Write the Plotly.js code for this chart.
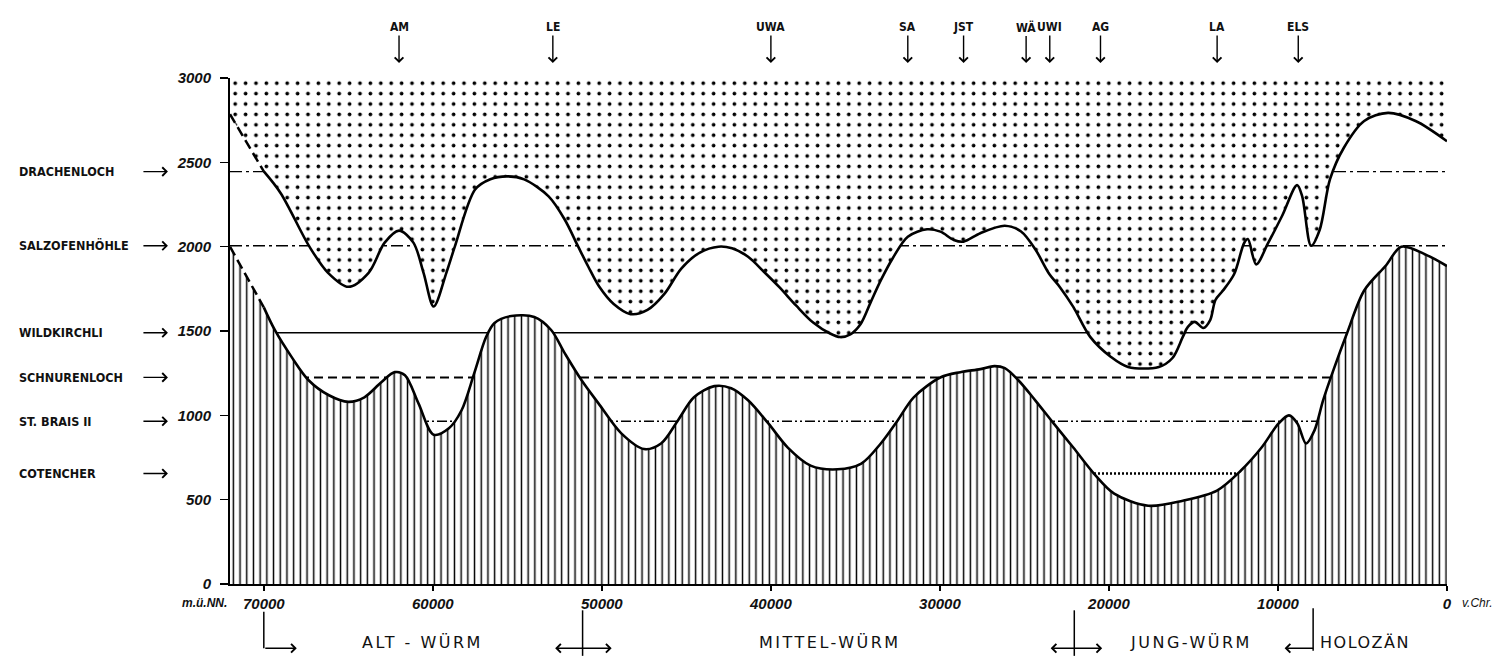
<!DOCTYPE html>
<html>
<head>
<meta charset="utf-8">
<script src="https://cdn.plot.ly/plotly-3.0.1.min.js"></script>
<style>html,body{margin:0;padding:0;background:#fff;}#chart{width:1498px;height:669px;}</style>
</head>
<body>
<div id="chart"></div>
<script>
// ---- data (years before Christ, metres above sea level) ----
const upperYears = [72000, 70000, 69000, 67300, 66200, 65000, 63800, 62850, 62000, 61150, 60550, 59950, 59200, 58700, 57500, 56600, 55600, 54600, 53150, 52200, 51400, 50800, 50150, 49300, 48300, 47300, 46300, 45300, 44200, 43100, 42300, 41350, 40400, 39500, 38500, 37500, 36500, 35900, 35300, 34700, 34100, 33500, 32800, 31900, 30760, 29970, 29180, 28600, 27610, 26160, 25200, 24360, 23530, 22900, 22110, 21110, 19880, 18870, 17050, 16240, 15630, 15330, 14920, 14420, 14010, 13700, 13250, 12590, 12000, 11780, 11290, 10580, 9760, 8870, 8570, 8040, 7530, 6920, 6110, 4900, 3490, 1860, 0];
const upperAlt   = [2785, 2446, 2317, 2000, 1845, 1762, 1845, 2024, 2095, 2024, 1845, 1645, 1845, 2000, 2339, 2400, 2417, 2399, 2298, 2161, 2000, 1881, 1762, 1660, 1600, 1625, 1720, 1870, 1965, 2000, 1990, 1940, 1850, 1760, 1650, 1550, 1485, 1464, 1480, 1540, 1670, 1800, 1930, 2059, 2103, 2089, 2040, 2030, 2080, 2124, 2090, 1985, 1838, 1760, 1643, 1465, 1346, 1287, 1287, 1340, 1465, 1524, 1554, 1518, 1565, 1684, 1740, 1838, 2022, 2045, 1895, 2022, 2182, 2365, 2300, 2005, 2100, 2400, 2585, 2745, 2793, 2745, 2625];
const lowerYears = [72000, 70000, 69350, 68350, 67350, 66150, 65000, 64050, 63050, 62250, 61650, 60850, 59950, 59050, 58300, 57550, 56850, 56350, 55350, 54000, 53000, 52200, 51200, 50200, 48850, 47500, 46500, 45500, 44550, 43350, 42350, 41350, 40150, 39000, 37650, 36050, 34650, 33500, 32500, 31550, 29950, 28790, 27600, 26780, 26160, 25360, 24360, 23320, 22110, 20890, 19690, 17680, 15630, 13610, 12190, 10970, 9960, 9350, 8850, 8340, 7840, 7330, 6720, 5910, 4900, 3600, 2700, 1200, 0];
const lowerAlt   = [2000, 1640, 1506, 1345, 1208, 1119, 1080, 1107, 1196, 1256, 1238, 1071, 885, 923, 1030, 1250, 1464, 1548, 1589, 1583, 1506, 1369, 1208, 1071, 893, 800, 833, 970, 1107, 1173, 1161, 1089, 952, 809, 702, 680, 714, 833, 970, 1107, 1226, 1256, 1274, 1292, 1280, 1208, 1089, 958, 809, 655, 536, 464, 494, 554, 673, 809, 952, 1000, 952, 833, 911, 1089, 1268, 1488, 1740, 1890, 2000, 1950, 1885];
const caveNames = ['DRACHENLOCH', 'SALZOFENHÖHLE', 'WILDKIRCHLI', 'SCHNURENLOCH', 'ST. BRAIS II', 'COTENCHER'];
const caveAlt   = [2445, 2005, 1490, 1225, 965, 655];
const siteLabels = ['AM', 'LE', 'UWA', 'SA', 'JST', 'WÄ', 'UWI', 'AG', 'LA', 'ELS'];
const siteYears  = [62000, 52900, 40000, 31900, 28600, 24900, 23500, 20500, 13600, 8800];
const xTickVals = [70000, 60000, 50000, 40000, 30000, 20000, 10000, 0];
const xTickText = ['70000', '60000', '50000', '40000', '30000', '20000', '10000', '0'];
const yTickVals = [0, 500, 1000, 1500, 2000, 2500, 3000];
const yTickText = ['0', '500', '1000', '1500', '2000', '2500', '3000'];
const periodNames = ['ALT - WÜRM', 'MITTEL-WÜRM', 'JUNG-WÜRM', 'HOLOZÄN'];
const xMax = 72000, yMax = 3000;

// ---- styles ----
const caveDash  = ['12px,4px,3px,4px', '12px,4px,3px,4px', 'solid', '9px,5px', '10px,3px,2px,3px,2px,3px', '2px,2px'];
const caveWidth = [1.4, 1.4, 1.5, 2, 1.4, 2.5];
const handFont = 'DejaVu Sans Condensed, Liberation Sans, Arial, sans-serif';
const tickFont = {family: 'Liberation Sans, Arial, sans-serif', size: 15, color: '#111', weight: 'bold', style: 'italic'};

const traces = [
  {x: [xMax, 0], y: [yMax, yMax], mode: 'lines', line: {width: 0}, hoverinfo: 'skip', showlegend: false},
  {x: upperYears, y: upperAlt, mode: 'lines', line: {width: 0, shape: 'spline', smoothing: 0.9},
   fill: 'tonexty', fillcolor: 'white',
   fillpattern: {shape: '.', size: 10.4, solidity: 0.1, fgcolor: '#000', bgcolor: 'white', fillmode: 'replace'},
   hoverinfo: 'skip', showlegend: false},
  {x: lowerYears, y: lowerAlt, mode: 'lines', line: {width: 0, shape: 'spline', smoothing: 0.9},
   fill: 'tozeroy', fillcolor: 'white',
   fillpattern: {shape: '|', size: 6.7, solidity: 0.22, fgcolor: '#000', bgcolor: 'white', fillmode: 'replace'},
   hoverinfo: 'skip', showlegend: false},
  {x: upperYears.slice(0, 2), y: upperAlt.slice(0, 2), mode: 'lines', line: {color: '#000', width: 2.5, dash: '10px,5px'}, hoverinfo: 'skip', showlegend: false},
  {x: upperYears.slice(1), y: upperAlt.slice(1), mode: 'lines', line: {color: '#000', width: 2.6, shape: 'spline', smoothing: 0.9}, hoverinfo: 'skip', showlegend: false},
  {x: lowerYears.slice(0, 2), y: lowerAlt.slice(0, 2), mode: 'lines', line: {color: '#000', width: 2.5, dash: '10px,5px'}, hoverinfo: 'skip', showlegend: false},
  {x: lowerYears.slice(1), y: lowerAlt.slice(1), mode: 'lines', line: {color: '#000', width: 2.6, shape: 'spline', smoothing: 0.9}, hoverinfo: 'skip', showlegend: false}
];

const shapes = [];
const annotations = [];
caveNames.forEach((name, i) => {
  shapes.push({type: 'line', layer: 'below', xref: 'x', yref: 'y', x0: xMax, x1: 0, y0: caveAlt[i], y1: caveAlt[i],
               line: {color: '#000', width: caveWidth[i], dash: caveDash[i]}});
  annotations.push({xref: 'paper', yref: 'y', x: -0.175, y: caveAlt[i], xanchor: 'left', yanchor: 'middle',
                    text: name, showarrow: false, font: {family: handFont, size: 12.5, weight: 'bold', color: '#111'}});
  annotations.push({xref: 'paper', yref: 'y', x: -0.051, y: caveAlt[i], text: '', showarrow: true,
                    ax: -26, ay: 0, arrowhead: 4, arrowsize: 1.2, arrowwidth: 1.4, arrowcolor: '#000'});
});
siteLabels.forEach((lab, i) => {
  annotations.push({xref: 'x', yref: 'paper', x: siteYears[i], y: 1.0296, text: lab, showarrow: true,
                    ax: 0, ay: -36, arrowhead: 4, arrowsize: 1.2, arrowwidth: 1.4, arrowcolor: '#000',
                    font: {family: handFont, size: 12, weight: 'bold', color: '#111'}});
});
// axis unit labels
annotations.push({xref: 'paper', yref: 'paper', x: -0.001, y: -0.037, xanchor: 'right', yanchor: 'middle', text: 'm.ü.NN.', showarrow: false,
                  font: {family: 'Liberation Sans, Arial, sans-serif', size: 12, weight: 'bold', style: 'italic', color: '#111'}});
annotations.push({xref: 'paper', yref: 'paper', x: 1.011, y: -0.037, xanchor: 'left', yanchor: 'middle', text: 'v.Chr.', showarrow: false,
                  font: {family: 'Liberation Sans, Arial, sans-serif', size: 12, style: 'italic', color: '#111'}});
// period labels
const periodFont = {family: 'DejaVu Sans, sans-serif', size: 16, color: '#111'};
const pY = -0.138;
const spaced = t => '<span style="letter-spacing:2.5px">' + t + '</span>';
annotations.push({xref: 'x', yref: 'paper', x: 60600, y: pY, text: spaced(periodNames[0]), showarrow: false, font: periodFont});
annotations.push({xref: 'x', yref: 'paper', x: 36480, y: pY, text: spaced(periodNames[1]), showarrow: false, font: periodFont});
annotations.push({xref: 'x', yref: 'paper', x: 15130, y: pY, text: spaced(periodNames[2]), showarrow: false, font: periodFont});
annotations.push({xref: 'x', yref: 'paper', x: 7650, y: pY, xanchor: 'left', text: '<span style="letter-spacing:1.5px">' + periodNames[3] + '</span>', showarrow: false, font: periodFont});
// period boundary markers
const arrY = -0.127;
shapes.push({type: 'line', xref: 'x', yref: 'paper', x0: 70000, x1: 70000, y0: -0.055, y1: arrY, line: {color: '#000', width: 1.5}});
[51140, 22050].forEach(v => {
  shapes.push({type: 'line', xref: 'x', yref: 'paper', x0: v, x1: v, y0: -0.052, y1: -0.142, line: {color: '#000', width: 1.5}});
});
shapes.push({type: 'line', xref: 'x', yref: 'paper', x0: 7920, x1: 7920, y0: -0.048, y1: -0.132, line: {color: '#000', width: 1.5}});
const arrowBase = {xref: 'x', yref: 'paper', y: arrY, text: '', showarrow: true, ay: 0, arrowhead: 4, startarrowhead: 4, arrowsize: 1.2, startarrowsize: 1.2, arrowwidth: 1.4, arrowcolor: '#000'};
annotations.push(Object.assign({}, arrowBase, {x: 68050, ax: -33, arrowside: 'end'}));
annotations.push(Object.assign({}, arrowBase, {x: 49420, ax: -58, arrowside: 'end+start'}));
annotations.push(Object.assign({}, arrowBase, {x: 20400, ax: -53, arrowside: 'end+start'}));
annotations.push(Object.assign({}, arrowBase, {x: 7920, ax: -30, arrowside: 'start'}));
annotations.push(Object.assign({}, arrowBase, {x: -360, ax: -47, arrowside: 'end'}));

const layout = {
  width: 1498, height: 669,
  margin: {l: 230, r: 51, t: 78, b: 85},
  paper_bgcolor: 'white', plot_bgcolor: 'white',
  showlegend: false,
  xaxis: {range: [xMax, 0], showgrid: false, zeroline: false, showline: true, linecolor: '#000', linewidth: 2,
          ticks: 'outside', ticklen: 5, tickwidth: 1.5, tickcolor: '#000',
          tickmode: 'array', tickvals: xTickVals, ticktext: xTickText, tickfont: tickFont},
  yaxis: {range: [0, yMax], showgrid: false, zeroline: false, showline: true, linecolor: '#000', linewidth: 2,
          ticks: 'outside', ticklen: 8, tickwidth: 1.5, tickcolor: '#000', ticklabelstandoff: 6,
          tickmode: 'array', tickvals: yTickVals, ticktext: yTickText, tickfont: tickFont},
  shapes: shapes,
  annotations: annotations
};
Plotly.newPlot('chart', traces, layout, {staticPlot: true, displayModeBar: false});
</script>
</body>
</html>
